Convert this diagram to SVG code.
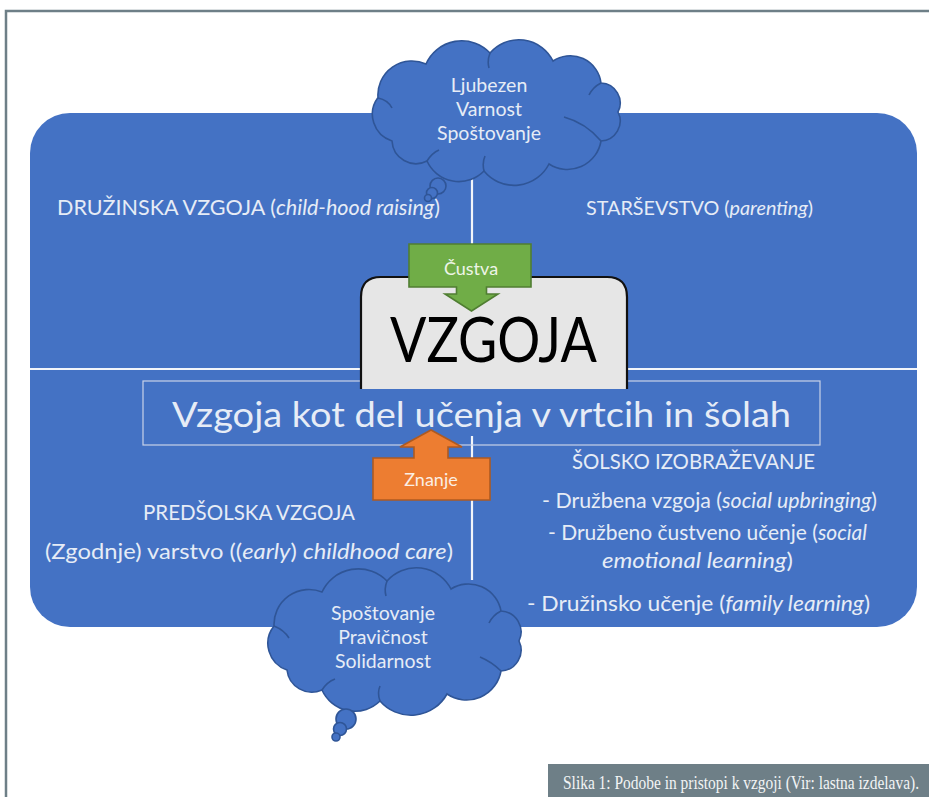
<svg xmlns="http://www.w3.org/2000/svg" width="929" height="797" viewBox="0 0 929 797">
<style>
.t{font-family:Lato,"Noto Sans",sans-serif;fill:#e6ecf6}
.b{font-size:21px}
.i{font-style:italic}
.cloud{fill:#4472c4;stroke:#2f5597;stroke-width:1.6}
.inner{fill:none;stroke:#2f5597;stroke-width:1.6}
.ct{font-family:Lato,"Noto Sans",sans-serif;font-size:19.5px;fill:#e6ecf6;text-anchor:middle}
.div{stroke:#f2f5fa;stroke-width:2.2}
</style>
<rect width="929" height="797" fill="#ffffff"/>
<g id="frame">
<path d="M6,797 V11 H929" fill="none" stroke="#6e7f87" stroke-width="2.5"/>
</g>
<g id="panel">
<rect x="30" y="113" width="887" height="514" rx="40" ry="40" fill="#4472c4"/>
</g>
<g id="connectors">
<line class="div" x1="30" y1="369" x2="917" y2="369" stroke-width="3"/>
<line class="div" x1="472" y1="170" x2="472" y2="369"/>
<line class="div" x1="472" y1="436" x2="472" y2="580"/>
</g>
<g id="cloud-top">
<path class="cloud" d="M392,141 A28,28 0 0 1 378,97.5 A34,34 0 0 1 426,64 A39,39 0 0 1 490,53 A38,38 0 0 1 553,61 A31,31 0 0 1 601,83 A20,20 0 0 1 618,112 A20,20 0 0 1 601,141 A34,34 0 0 1 549,164 A39,39 0 0 1 484,171 A35,35 0 0 1 427,161 A24,24 0 0 1 392,141 Z"/>
<path class="inner" d="M378,98 Q388,100 392,108 M490,53 Q487,61 489,68 M601,83 Q593,87 589,95 M601,141 Q586,123 564,117 M484,171 Q482,163 485,156 M427,161 Q432,153 439,150"/>
<circle class="cloud" cx="438" cy="186" r="8"/>
<circle class="cloud" cx="432" cy="193" r="5.5"/>
<circle class="cloud" cx="428" cy="198" r="3.5"/>
<text class="ct" x="489" y="92">Ljubezen</text>
<text class="ct" x="489" y="116">Varnost</text>
<text class="ct" x="489" y="140">Spoštovanje</text>
</g>
<g id="druzinska">
<text class="t b" x="57" y="215" textLength="383" lengthAdjust="spacingAndGlyphs">DRUŽINSKA VZGOJA (<tspan class="i">child-hood raising</tspan>)</text>
</g>
<g id="starsevstvo">
<text class="t" font-size="20" x="586" y="215" textLength="227" lengthAdjust="spacingAndGlyphs">STARŠEVSTVO (<tspan class="i">parenting</tspan>)</text>
</g>
<g id="frame-text">
<rect x="143" y="381" width="677" height="64" fill="none" stroke="#c9d3e8" stroke-width="1.2"/>
<text class="t" x="172" y="427" font-size="35" textLength="619" lengthAdjust="spacingAndGlyphs">Vzgoja kot del učenja v vrtcih in šolah</text>
</g>
<g id="vzgoja">
<path d="M361,389 V297 Q361,277 381,277 H607 Q627,277 627,297 V389 Z" fill="#e6e6e6"/>
<path d="M361,389 V297 Q361,277 381,277 H607 Q627,277 627,297 V389" fill="none" stroke="#111" stroke-width="2.2"/>
<text x="390" y="362" font-family="Lato,'Noto Sans',sans-serif" font-size="61" fill="#000" textLength="207" lengthAdjust="spacingAndGlyphs">VZGOJA</text>
</g>
<g id="custva">
<path d="M409,244 H531 V287 H486.5 V294 H498 L471.5,311 L445,294 H456.5 V287 H409 Z" fill="#70ad47" stroke="#507e32" stroke-width="1.6"/>
<text x="471" y="275" font-family="Lato,'Noto Sans',sans-serif" font-size="18" fill="#eef5e8" text-anchor="middle">Čustva</text>
</g>
<g id="znanje">
<path d="M373,500 V458 H414 V447 H400 L431,430 L462,447 H448 V458 H490 V500 Z" fill="#ed7d31" stroke="#ae5a21" stroke-width="1.6"/>
<text x="431" y="486" font-family="Lato,'Noto Sans',sans-serif" font-size="18" fill="#fbeee4" text-anchor="middle">Znanje</text>
</g>
<g id="solsko">
<text class="t b" x="572" y="469" textLength="243" lengthAdjust="spacingAndGlyphs">ŠOLSKO IZOBRAŽEVANJE</text>
<text class="t b" x="542" y="508" textLength="335" lengthAdjust="spacingAndGlyphs">- Družbena vzgoja (<tspan class="i">social upbringing</tspan>)</text>
<text class="t b" x="548" y="540" textLength="319" lengthAdjust="spacingAndGlyphs">- Družbeno čustveno učenje (<tspan class="i">social</tspan></text>
<text class="t b" x="602" y="568" textLength="191" lengthAdjust="spacingAndGlyphs"><tspan class="i">emotional learning</tspan>)</text>
<text class="t b" x="527" y="611" textLength="343" lengthAdjust="spacingAndGlyphs">- Družinsko učenje (<tspan class="i">family learning</tspan>)</text>
</g>
<g id="predsolska">
<text class="t b" x="143" y="520" textLength="212" lengthAdjust="spacingAndGlyphs">PREDŠOLSKA VZGOJA</text>
<text class="t b" x="45" y="559" textLength="408" lengthAdjust="spacingAndGlyphs">(Zgodnje) varstvo ((<tspan class="i">early</tspan>) <tspan class="i">childhood care</tspan>)</text>
</g>
<g id="cloud-bottom">
<path class="cloud" d="M287,670 A28,28 0 0 1 274,626 A35,35 0 0 1 322,592 A40,40 0 0 1 387,581 A39,39 0 0 1 451,589 A33,33 0 0 1 501,611 A21,21 0 0 1 519,641 A21,21 0 0 1 501,671 A35,35 0 0 1 447,694 A41,41 0 0 1 380,701 A36,36 0 0 1 322,690 A25,25 0 0 1 287,670 Z"/>
<path class="inner" d="M274,626 Q284,630 289,638 M387,581 Q384,589 386,596 M501,611 Q493,615 489,623 M501,671 Q492,662 480,657 M380,701 Q377,693 380,686 M322,690 Q327,682 335,679"/>
<circle class="cloud" cx="346" cy="719" r="10"/>
<circle class="cloud" cx="340" cy="729" r="6.5"/>
<circle class="cloud" cx="336" cy="737" r="4"/>
<text class="ct" x="383" y="620">Spoštovanje</text>
<text class="ct" x="383" y="644">Pravičnost</text>
<text class="ct" x="383" y="668">Solidarnost</text>
</g>
<g id="caption">
<rect x="548" y="764" width="381" height="33" fill="#6e7f87"/>
<text transform="translate(563,789) scale(1,1.18)" x="0" y="0" font-family="'Liberation Serif',serif" font-size="15.4" fill="#f2f4f5" textLength="356" lengthAdjust="spacingAndGlyphs">Slika 1: Podobe in pristopi k vzgoji (Vir: lastna izdelava).</text>
</g>
</svg>
